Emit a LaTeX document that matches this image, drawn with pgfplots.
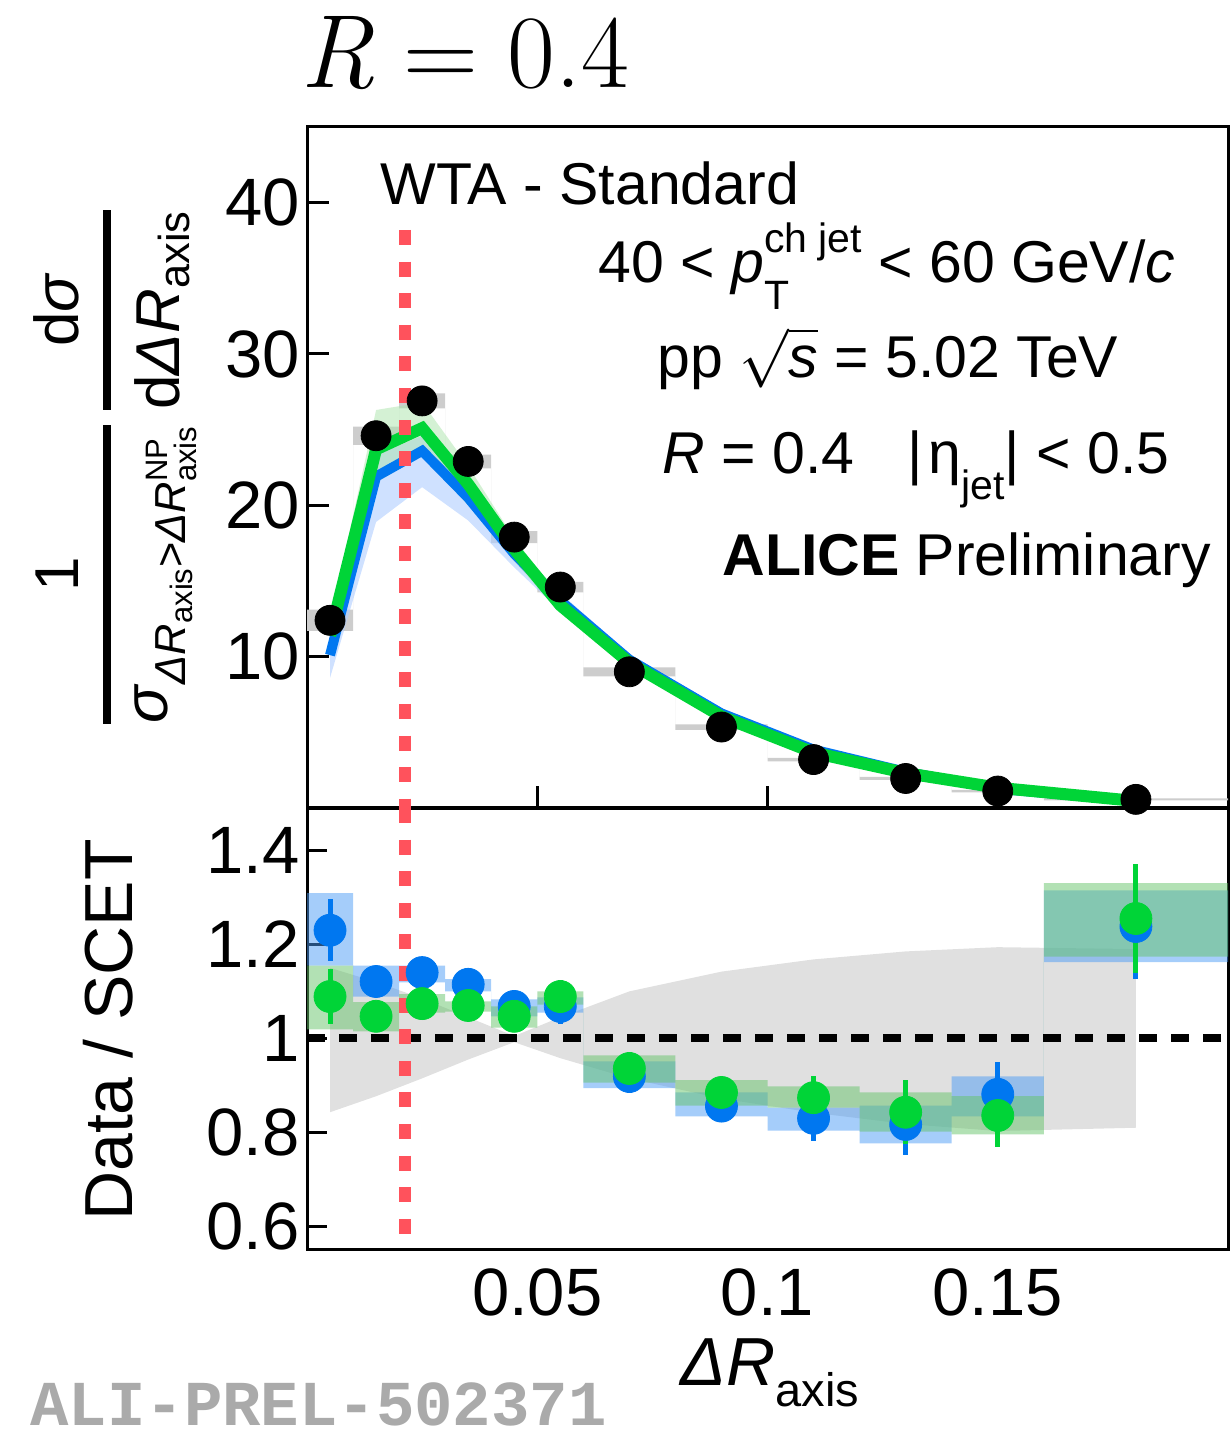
\RequirePackage{fix-cm}
\documentclass[border=0pt]{standalone}
\usepackage{amsmath}
\usepackage[no-math]{fontspec}
\setmainfont{Liberation Sans}
\setmonofont{Liberation Mono}
\newfontfamily\lmr{Latin Modern Roman}
\usepackage{pgfplots}
\pgfplotsset{compat=1.18}
\usepgfplotslibrary{fillbetween}

\definecolor{dblue}{RGB}{0,119,240}
\definecolor{dgreen}{RGB}{0,212,55}
\definecolor{bboxc}{RGB}{75,155,245}
\definecolor{gboxc}{RGB}{101,195,105}
\definecolor{redd}{RGB}{255,82,92}
\definecolor{grayband}{RGB}{224,224,224}
\definecolor{bbandc}{RGB}{175,205,255}
\definecolor{gbandc}{RGB}{170,228,170}
\definecolor{dataunc}{RGB}{205,205,205}
\definecolor{prelgray}{RGB}{170,170,170}

% data (top panel)
\pgfplotstableread{
x     y
0.005 12.4
0.015 24.6
0.025 26.9
0.035 22.9
0.045 17.9
0.055 14.6
0.07  9.0
0.09  5.35
0.11  3.2
0.13  1.95
0.15  1.12
0.18  0.57
}\datatab

% data systematic boxes (left bin edges)
\pgfplotstableread{
x     lo     hi
0     11.7   13.1
0.01  24.0   25.2
0.02  26.4   27.4
0.03  22.45  23.35
0.04  17.5   18.3
0.05  14.25  14.95
0.06  8.7    9.3
0.08  5.17   5.53
0.10  3.08   3.32
0.12  1.85   2.05
0.14  1.04   1.2
0.16  0.50   0.64
0.20  0.50   0.64
}\databox

% SCET predictions (top panel)
\pgfplotstableread{
x     b     bl    bu    g     gl    gu
0.005 10.1  8.6   11.0  11.4  10.6  12.3
0.015 21.9  18.9  23.3  23.7  21.5  26.3
0.025 23.6  21.2  24.6  25.1  23.3  26.8
0.035 20.5  19.0  21.3  21.4  20.0  22.6
0.045 16.8  15.9  17.4  17.1  16.3  17.8
0.055 13.7  13.0  14.2  13.4  12.9  13.9
0.07  9.8   9.4   10.2  9.6   9.25  9.95
0.09  6.25  6.0   6.55  6.05  5.85  6.3
0.11  3.86  3.7   4.05  3.66  3.55  3.8
0.13  2.39  2.3   2.5   2.31  2.24  2.4
0.15  1.27  1.22  1.33  1.34  1.3   1.39
0.18  0.47  0.45  0.5   0.46  0.44  0.48
}\theo

% ratio points
\pgfplotstableread{
x     b      be     g      ge
0.005 1.230  0.066  1.089  0.058
0.015 1.121  0.02   1.047  0.02
0.025 1.140  0.02   1.074  0.02
0.035 1.115  0.02   1.070  0.02
0.045 1.068  0.02   1.047  0.02
0.055 1.068  0.038  1.089  0.036
0.07  0.919  0.035  0.936  0.035
0.09  0.856  0.03   0.885  0.03
0.11  0.830  0.049  0.874  0.047
0.13  0.817  0.066  0.843  0.068
0.15  0.881  0.068  0.836  0.068
0.18  1.238  0.112  1.255  0.115
}\rattab

% ratio systematic boxes (left bin edges)
\pgfplotstableread{
x     bu     bl     gu     gl
0     1.309  1.155  1.155  1.019
0.01  1.155  1.089  1.077  1.015
0.02  1.155  1.119  1.094  1.055
0.03  1.126  1.100  1.079  1.057
0.04  1.083  1.047  1.068  1.023
0.05  1.087  1.055  1.100  1.072
0.06  0.951  0.894  0.964  0.906
0.08  0.885  0.834  0.911  0.857
0.10  0.853  0.804  0.898  0.853
0.12  0.857  0.777  0.885  0.802
0.14  0.919  0.834  0.877  0.796
0.16  1.315  1.162  1.330  1.174
0.20  1.315  1.162  1.330  1.174
}\ratbox

% grey band in ratio panel
\pgfplotstableread{
x     up     lo
0.005 1.150  0.843
0.015 1.120  0.877
0.025 1.085  0.915
0.035 1.045  0.955
0.045 1.005  0.992
0.055 1.045  0.958
0.07  1.100  0.915
0.09  1.142  0.872
0.11  1.168  0.842
0.13  1.185  0.818
0.15  1.194  0.803
0.18  1.190  0.810
}\grayb

\begin{document}
\begin{tikzpicture}
\path (0,0) rectangle (615pt,-716.5pt);

% ---------------- top panel ----------------
\begin{axis}[
  at={(153.5pt,-63.5pt)}, anchor=north west,
  scale only axis, width=460.5pt, height=340.5pt,
  xmin=0, xmax=0.2, ymin=0, ymax=45,
  axis line style={line width=1.5pt},
  xtick={0.05,0.1,0.15}, xticklabels={},
  ytick={10,20,30,40}, yticklabels={10,20,30,40},
  xtick pos=bottom, ytick pos=left, tick align=inside,
  major tick length=11pt,
  every tick/.style={black, line width=1.5pt},
  yticklabel style={font=\fontsize{33.5}{40}\selectfont, inner sep=0pt, xshift=-3.5pt},
  /pgf/number format/assume math mode=true,
]
% data syst boxes
\addplot[draw=none, const plot, name path=dlo] table[x=x,y=lo]{\databox};
\addplot[draw=none, const plot, name path=dhi] table[x=x,y=hi]{\databox};
\addplot[dataunc, draw=none] fill between[of=dlo and dhi];
% theory bands
\addplot[draw=none, name path=tbl] table[x=x,y=bl]{\theo};
\addplot[draw=none, name path=tbu] table[x=x,y=bu]{\theo};
\addplot[bbandc, fill opacity=0.6, draw=none] fill between[of=tbl and tbu];
\addplot[draw=none, name path=tgl] table[x=x,y=gl]{\theo};
\addplot[draw=none, name path=tgu] table[x=x,y=gu]{\theo};
\addplot[gbandc, fill opacity=0.5, draw=none] fill between[of=tgl and tgu];
% theory lines
\addplot[dblue, line width=5pt, no marks] table[x=x,y=b]{\theo};
\addplot[dgreen, line width=6pt, no marks] table[x=x,y=g]{\theo};
% red dashed line
\addplot[redd, line width=6pt, dash pattern=on 7.5pt off 8.3pt, no marks] coordinates {(0.02137,38.2) (0.02137,0)};
% data
\addplot[only marks, mark=*, mark size=7.5pt, black] table[x=x,y=y]{\datatab};
\end{axis}

% ---------------- bottom panel ----------------
\begin{axis}[
  at={(153.5pt,-404pt)}, anchor=north west,
  scale only axis, width=460.5pt, height=221pt,
  xmin=0, xmax=0.2, ymin=0.55, ymax=1.49,
  axis line style={line width=1.5pt},
  xtick={0.05,0.1,0.15}, xticklabels={0.05,0.1,0.15},
  ytick={0.6,0.8,1,1.2,1.4}, yticklabels={0.6,0.8,1,1.2,1.4},
  xtick pos=bottom, ytick pos=left, tick align=inside,
  major tick length=10pt,
  every tick/.style={black, line width=1.5pt},
  xtick style={draw=none},
  yticklabel style={font=\fontsize{33.5}{40}\selectfont, inner sep=0pt, xshift=-3.5pt},
  xticklabel style={font=\fontsize{33.5}{40}\selectfont, inner sep=0pt, yshift=-9pt},
  /pgf/number format/assume math mode=true,
]
% grey band
\addplot[draw=none, name path=gbu] table[x=x,y=up]{\grayb};
\addplot[draw=none, name path=gbl] table[x=x,y=lo]{\grayb};
\addplot[grayband, draw=none] fill between[of=gbu and gbl];
% blue boxes
\addplot[draw=none, const plot, name path=rbu] table[x=x,y=bu]{\ratbox};
\addplot[draw=none, const plot, name path=rbl] table[x=x,y=bl]{\ratbox};
\addplot[bboxc, fill opacity=0.5, draw=none] fill between[of=rbu and rbl];
% green boxes
\addplot[draw=none, const plot, name path=rgu] table[x=x,y=gu]{\ratbox};
\addplot[draw=none, const plot, name path=rgl] table[x=x,y=gl]{\ratbox};
\addplot[gboxc, fill opacity=0.5, draw=none] fill between[of=rgu and rgl];
% unity line
\addplot[black, line width=4pt, dash pattern=on 9pt off 7pt, no marks] coordinates {(0,1) (0.2,1)};
% red dashed
\addplot[redd, line width=6pt, dash pattern=on 7.5pt off 8.3pt, no marks] coordinates {(0.02137,1.49) (0.02137,0.55)};
% points
\addplot[only marks, mark=*, mark size=8pt, dblue,
  error bars/.cd, y dir=both, y explicit, error mark=none,
  error bar style={line width=2.5pt, dblue}]
  table[x=x,y=b,y error=be]{\rattab};
\addplot[only marks, mark=*, mark size=8pt, dgreen,
  error bars/.cd, y dir=both, y explicit, error mark=none,
  error bar style={line width=2.5pt, dgreen}]
  table[x=x,y=g,y error=ge]{\rattab};
\end{axis}

% ---------------- texts ----------------
\node[anchor=base, inner sep=0pt] at (232.5pt,-44pt) {\fontsize{52}{56}\selectfont\lmr \textit{R}\hspace{0.28em}=\hspace{0.28em}0.4};

\node[anchor=base west, inner sep=0pt] at (190pt,-102.5pt) {\fontsize{29.5}{35}\selectfont WTA - Standard};
\node[anchor=base west, inner sep=0pt] at (299pt,-141.5pt) {\fontsize{29.5}{35}\selectfont 40 < \textit{p}\rlap{\raisebox{-0.45em}{\fontsize{20.5}{24}\selectfont T}}\raisebox{0.52em}{\fontsize{20.5}{24}\selectfont ch jet} < 60 GeV/\textit{c}};
\node[anchor=base west, inner sep=0pt] at (328.5pt,-188.5pt) {\fontsize{29.5}{35}\selectfont pp $\sqrt{\text{\textit{s}}}$ = 5.02 TeV};
\node[anchor=base west, inner sep=0pt] at (331pt,-236.5pt) {\fontsize{29.5}{35}\selectfont \textit{R} = 0.4\hspace{0.9em}|\hspace{0.1em}η\raisebox{-0.45em}{\fontsize{20.5}{24}\selectfont jet}| < 0.5};
\node[anchor=base west, inner sep=0pt] at (361pt,-287.5pt) {\fontsize{29.5}{35}\selectfont \textbf{ALICE} Preliminary};

% y labels
\node[rotate=90, anchor=center, inner sep=0pt] at (57.5pt,-233.5pt) {\fontsize{31}{37}\selectfont
 $\genfrac{}{}{4pt}{0}{\text{1}}{\text{\textit{σ}}_{\text{\textit{ΔR}}_{\text{axis}}\text{>}\text{\textit{ΔR}}^{\text{NP}}_{\text{axis}}}}\,\genfrac{}{}{4pt}{0}{\text{d\textit{σ}}}{\text{d\textit{ΔR}}_{\text{axis}}}$};
\node[rotate=90, anchor=center, inner sep=0pt] at (54pt,-515pt) {\fontsize{34}{40}\selectfont Data / SCET};

% x label
\node[anchor=base, inner sep=0pt] at (385pt,-692.5pt) {\fontsize{34}{40}\selectfont \textit{ΔR}\raisebox{-0.32em}{\fontsize{23.5}{28}\selectfont axis}};

% preliminary tag
\node[anchor=base west, inner sep=0pt, text=prelgray] at (15pt,-712.5pt) {\fontsize{32}{38}\selectfont\ttfamily\bfseries ALI-PREL-502371};
\end{tikzpicture}
\end{document}
